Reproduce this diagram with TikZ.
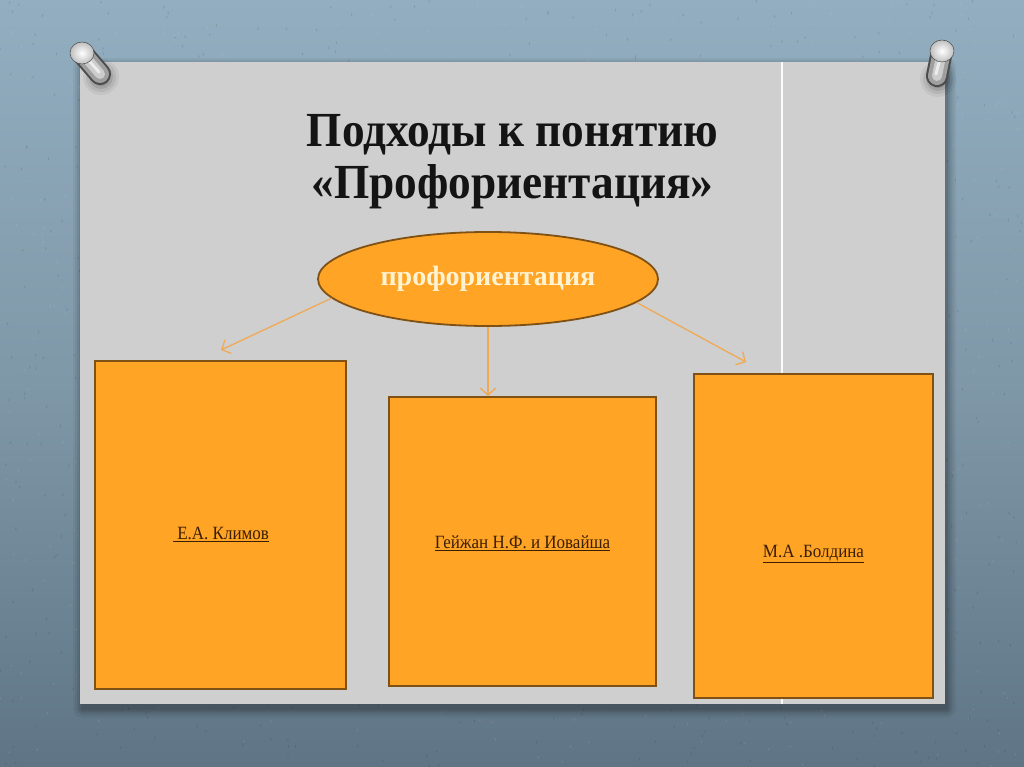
\documentclass[tikz,border=0pt]{standalone}
\usepackage{fontspec}
\setmainfont{Liberation Serif}
\usetikzlibrary{shapes.geometric,arrows.meta}
\definecolor{bgtop}{HTML}{92AEC0}
\definecolor{bgmid}{HTML}{7F98A8}
\definecolor{bgbot}{HTML}{5F7585}
\definecolor{panel}{HTML}{CFCFCF}
\definecolor{orfill}{HTML}{FFA425}
\definecolor{orline}{HTML}{7F5114}
\definecolor{arrowc}{HTML}{F0AA55}
\definecolor{boxtext}{HTML}{3A1E05}
\definecolor{ovaltext}{HTML}{FFF3D2}
\tikzset{
  boxnode/.style={draw=orline, line width=1.8pt, fill=orfill, inner sep=0pt},
  ovalnode/.style={ellipse, draw=orline, line width=1.8pt, fill=orfill, inner sep=0pt,
    minimum width=340pt, minimum height=94pt, text=ovaltext,
    font=\fontsize{28}{30}\selectfont\bfseries},
  linkarrow/.style={draw=arrowc, line width=1.3pt, -{Straight Barb[length=7pt,width=15pt,line width=1.3pt]}},
  titletext/.style={anchor=base, font=\fontsize{49}{52}\selectfont\bfseries, text=black!92, inner sep=0pt},
  boxlabel/.style={anchor=base, font=\fontsize{17}{20}\selectfont, text=boxtext, inner sep=0pt},
}
\newcommand\ttlscale[1]{\scalebox{0.925}[1]{#1}}
\newcommand\lblscale[1]{\scalebox{1}[1.1]{#1}}
\begin{document}
\begin{tikzpicture}[x=1pt,y=-1pt]
\useasboundingbox (0,0) rectangle (1024,767);
% background
\shade[top color=bgtop, bottom color=bgbot, middle color=bgmid] (0,0) rectangle (1024,767);
\pgfmathsetseed{11}
\foreach \i in {1,...,900}{
  \pgfmathsetmacro\px{rnd*1024}
  \pgfmathsetmacro\py{rnd*767}
  \fill[black, opacity=0.10] (\px,\py) ellipse (0.7pt and 1.6pt);
}
\foreach \i in {1,...,600}{
  \pgfmathsetmacro\px{rnd*1024}
  \pgfmathsetmacro\py{rnd*767}
  \fill[white, opacity=0.10] (\px,\py) ellipse (0.7pt and 1.4pt);
}
% panel shadow
\foreach \k/\o in {9/0.04,7/0.05,5/0.06,3/0.08,1/0.10}{
  \fill[black, opacity=\o, rounded corners=\k pt] (80+2-\k,62+5-\k) rectangle (945+2+\k,704+5+\k);
}
% panel
\fill[panel] (80,62) rectangle (945,704);
\draw[white!92!panel, line width=1.2pt] (782,62) -- (782,704);
% pins
\foreach \a/\b/\c/\d in {82/53/100/74, 942/51/937/76}{
  \foreach \r/\o in {18/0.05,15/0.07,12/0.10,9/0.15}{
    \fill[black, opacity=\o] (\c+1,\d+3) circle (\r pt);
  }
  \draw[line width=22pt, line cap=round, color=gray!60!black] (\a,\b) -- (\c,\d);
  \draw[line width=18pt, line cap=round, color=gray!75] (\a,\b) -- (\c,\d);
  \draw[line width=10pt, line cap=round, color=gray!40] (\a,\b) -- (\c,\d);
  \draw[line width=3pt, line cap=round, color=white!85!gray] (\a,\b) -- (\c-1,\d-2);
  \shade[inner color=white, outer color=gray!50] (\a,\b) ellipse (12pt and 11pt);
  \draw[gray!60!black, line width=0.5pt] (\a,\b) ellipse (12pt and 11pt);
}
% title
\node[titletext] (t1) at (512.5,147) {\ttlscale{Подходы к понятию}};
\node[titletext] (t2) at (512.5,199) {\ttlscale{«Профориентация»}};
% oval
\node[ovalnode] (ov) at (488,279) {\raisebox{-2.5pt}{профориентация}};
% boxes
\node[boxnode, minimum width=251pt, minimum height=328pt] (b1) at (220.5,525) {};
\node[boxnode, minimum width=267pt, minimum height=289pt] (b2) at (522.5,541.5) {};
\node[boxnode, minimum width=239pt, minimum height=324pt] (b3) at (813.5,536) {};
% box labels
\node[boxlabel] (l1) at (221,539) {\lblscale{\underline{\ Е.А. Климов}}};
\node[boxlabel] (l2) at (522.5,548) {\lblscale{\underline{Гейжан Н.Ф. и Иовайша}}};
\node[boxlabel] (l3) at (813.5,557) {\lblscale{\underline{М.А .Болдина}}};
% arrows
\coordinate (e1) at (221,350);
\coordinate (e3) at (746,362);
\draw[linkarrow] (ov.187) -- (e1);
\draw[linkarrow] (ov.south) -- (ov.south |- b2.north);
\draw[linkarrow] (ov.351) -- (e3);
\end{tikzpicture}
\end{document}
